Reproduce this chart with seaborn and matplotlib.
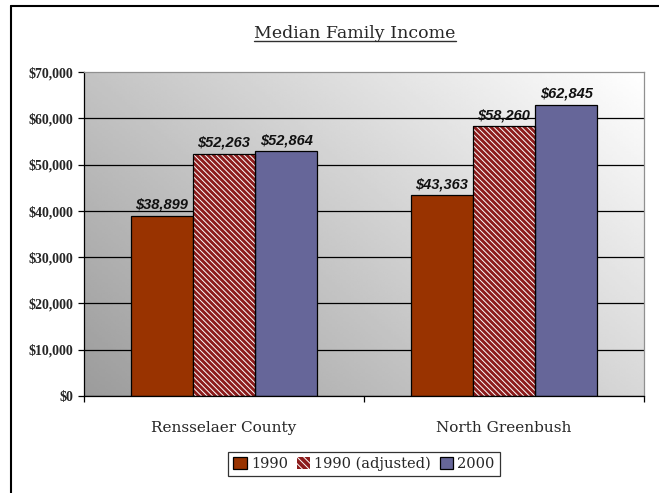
#
# Median family income, grouped bars (Excel-like look)
#
import numpy as np
import pandas as pd
import matplotlib
matplotlib.use("Agg")
import matplotlib.pyplot as plt
from matplotlib.patches import Rectangle, Patch
from matplotlib.lines import Line2D
import matplotlib.ticker as mticker
import seaborn as sns

# Data
places = ['Rensselaer County', 'North Greenbush']
series = ['1990', '1990 (adjusted)', '2000']
income_1990 = [38899, 43363]
income_1990_adj = [52263, 58260]
income_2000 = [52864, 62845]
yticks = [0, 10000, 20000, 30000, 40000, 50000, 60000, 70000]

colors = ['#993300', '#8c1c1c', '#666699']

df = pd.DataFrame({
    'place': places * 3,
    'series': [series[0]] * 2 + [series[1]] * 2 + [series[2]] * 2,
    'income': income_1990 + income_1990_adj + income_2000,
})

sns.set_style('white')
plt.rcParams['hatch.linewidth'] = 0.7

fig = plt.figure(figsize=(6.59, 4.93), dpi=100)
ax = fig.add_axes([84/659, 1-396/493, (644-84)/659, (396-72)/493])

# gradient background of the plot area
u = np.linspace(0, 1, 200)
v = np.linspace(0, 1, 200)
U, V = np.meshgrid(u, v)
grad = 0.61 + 0.39*(0.6*U + 0.4*V)
ax.imshow(grad, extent=[0, 1, 0, 1], origin='lower', transform=ax.transAxes,
          aspect='auto', cmap='gray', vmin=0, vmax=1, zorder=0)

sns.barplot(data=df, x='place', y='income', hue='series', order=places,
            hue_order=series, palette=colors, width=0.667, saturation=1,
            edgecolor='black', linewidth=0.9, legend=False, ax=ax, zorder=2)

# hatch the adjusted bars (white stripes, black outline on top)
cont = ax.containers
for p in cont[1]:
    p.set_hatch('\\\\\\\\\\\\')
    p.set_edgecolor('white')
    p.set_linewidth(0)
    ax.add_patch(Rectangle((p.get_x(), p.get_y()), p.get_width(), p.get_height(),
                           fill=False, edgecolor='black', lw=0.9, zorder=3))

for c in cont:
    ax.bar_label(c, labels=['${:,.0f}'.format(b.get_height()) for b in c], padding=3,
                 fontsize=10.5, fontweight='bold', fontstyle='italic', color='#111111',
                 family=['Liberation Sans Narrow', 'Liberation Sans'], fontstretch='condensed')

ax.set_xlim(-0.5, 1.5)
ax.set_ylim(0, 70000)
ax.set_yticks(yticks)
ax.yaxis.set_major_formatter(mticker.FuncFormatter(lambda x, pos: '${:,.0f}'.format(x)))
ax.set_xlabel('')
ax.set_ylabel('')

ax.set_axisbelow(True)
ax.yaxis.grid(True, color='black', lw=0.9)
ax.xaxis.grid(False)
ax.yaxis.get_gridlines()[-1].set_visible(False)

for s in ['top', 'right']:
    ax.spines[s].set_color('#909090')
    ax.spines[s].set_linewidth(0.9)
for s in ['left', 'bottom']:
    ax.spines[s].set_color('black')
    ax.spines[s].set_linewidth(0.9)

ax.tick_params(axis='y', which='major', left=True, length=4, width=0.9, color='black',
               pad=4, labelsize=10)
for t in ax.get_yticklabels():
    t.set_family(['Liberation Serif', 'DejaVu Serif'])
    t.set_fontweight('bold')

ax.set_xticks([-0.5, 0.5, 1.5], minor=True)
ax.tick_params(axis='x', which='minor', bottom=True, length=4, width=0.9, color='black')
ax.tick_params(axis='x', which='major', bottom=False, length=0, pad=18, labelsize=11)
for t in ax.get_xticklabels():
    t.set_family(['DejaVu Serif'])

# title with underline
title = fig.text(355/659, 1-33/493, 'Median Family Income', ha='center', va='center',
                 fontsize=12.5, family=['DejaVu Serif'])
fig.canvas.draw()
bb = title.get_window_extent()
fig.add_artist(Line2D([bb.x0/659, bb.x1/659], [(bb.y0 + 1)/493] * 2,
                      transform=fig.transFigure, color='#303030', lw=1))

# legend
handles = [Patch(facecolor=colors[0], edgecolor='black', lw=0.9),
           Patch(facecolor=colors[1], edgecolor='white', hatch='\\\\\\\\\\', lw=0),
           Patch(facecolor=colors[2], edgecolor='black', lw=0.9)]
leg = fig.legend(handles, series, loc='center', bbox_to_anchor=(364/659, 1-464/493),
                 ncol=3, frameon=True, fancybox=False, edgecolor='black',
                 handlelength=0.9, handleheight=0.9, handletextpad=0.3,
                 columnspacing=0.6, borderpad=0.35, prop={'family': 'DejaVu Serif', 'size': 10.5})
leg.get_frame().set_linewidth(0.9)

# outer chart frame (top and left edges are visible)
fig.add_artist(Line2D([11/659, 1], [1-6/493, 1-6/493], transform=fig.transFigure,
                      color='black', lw=1.5))
fig.add_artist(Line2D([11/659, 11/659], [0, 1-6/493], transform=fig.transFigure,
                      color='black', lw=1.5))

plt.savefig('out.png', dpi=100)
plt.close()
